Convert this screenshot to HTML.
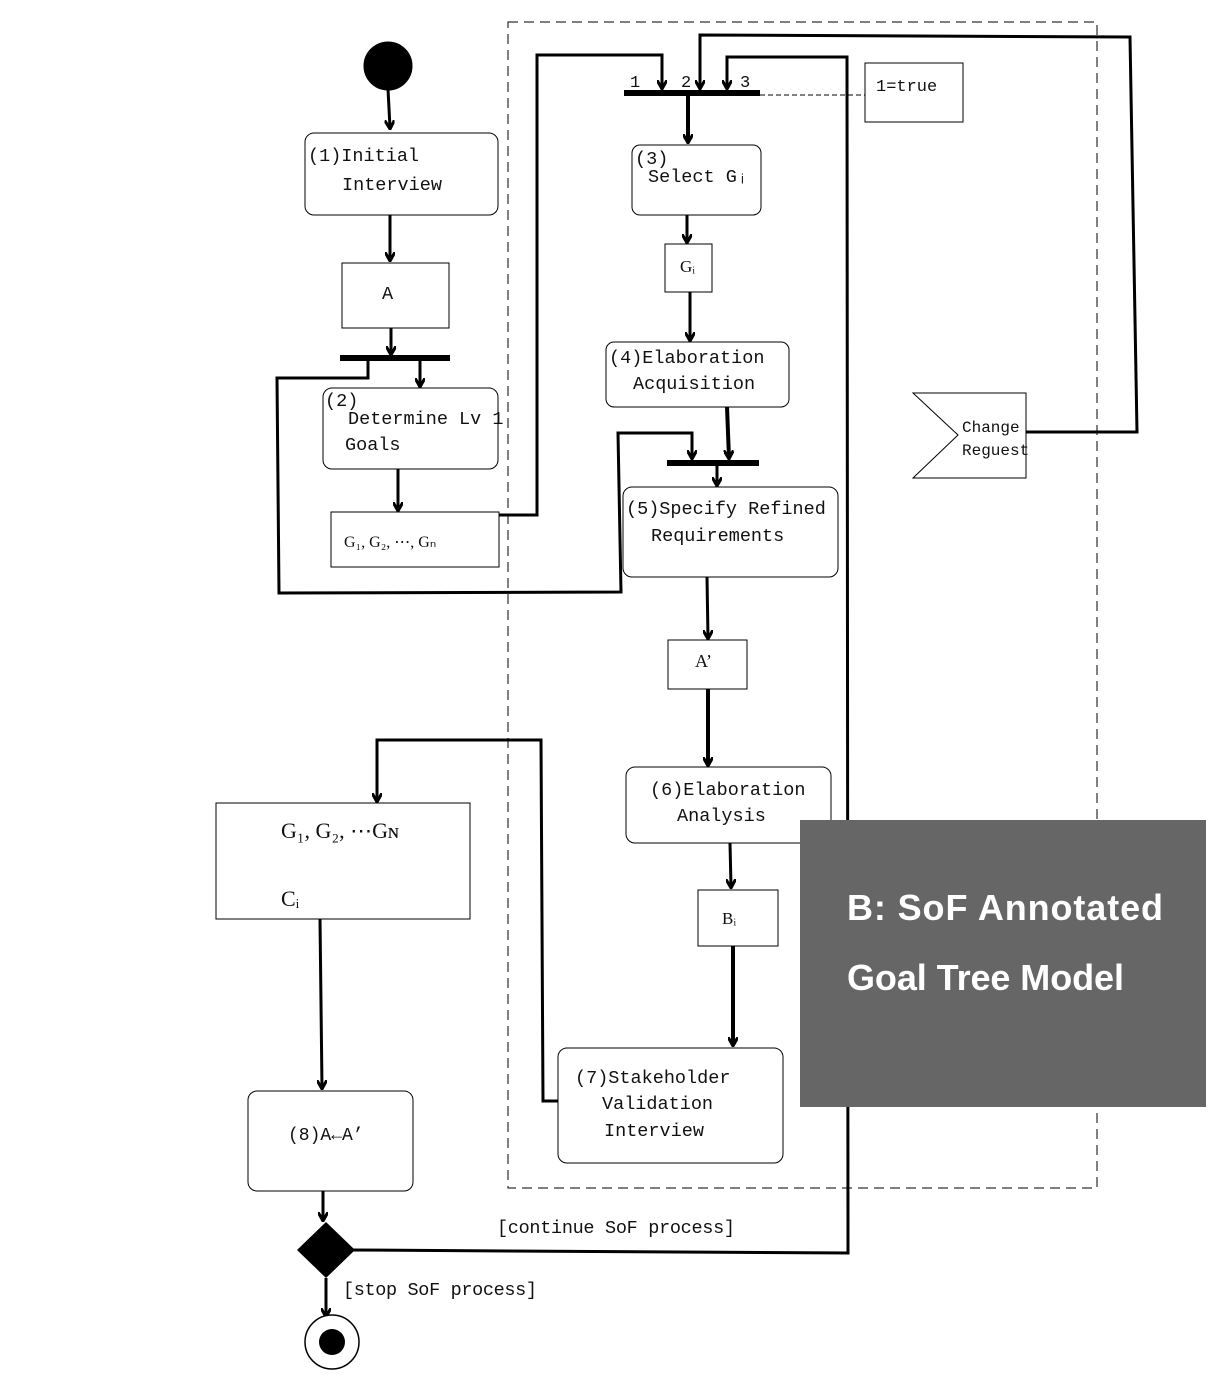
<!DOCTYPE html>
<html><head><meta charset="utf-8"><style>
html,body{margin:0;padding:0;background:#fff;}
svg{display:block;}
text{font-family:"Liberation Mono","Noto Serif CJK SC",monospace;font-size:18.5px;fill:#111;}
</style></head><body>
<svg width="1221" height="1394" viewBox="0 0 1221 1394" xmlns="http://www.w3.org/2000/svg">
<defs>
<marker id="ah" markerWidth="10" markerHeight="10" refX="8" refY="5" orient="auto" markerUnits="userSpaceOnUse">
<path d="M0,0 L9,5 L0,10" fill="none" stroke="#000" stroke-width="3"/>
</marker>
</defs>
<g fill="none" stroke="#000" stroke-width="3">
<rect x="508" y="22" width="589" height="1166" stroke-width="1" stroke-dasharray="10,6"/>
<line x1="760" y1="95" x2="865" y2="95" stroke-width="1" stroke-dasharray="5,3"/>
<circle cx="388" cy="66" r="23" fill="#000"/>
<line x1="388" y1="89" x2="390" y2="128" marker-end="url(#ah)"/>
<line x1="390" y1="215" x2="390" y2="260" marker-end="url(#ah)"/>
<line x1="391" y1="328" x2="391" y2="354" marker-end="url(#ah)"/>
<line x1="340" y1="358" x2="450" y2="358" stroke-width="6"/>
<line x1="420" y1="358" x2="420" y2="386" marker-end="url(#ah)"/>
<polyline points="368,358 368,378 277,378 279,593 621,592 618,433 692,433 692,458" marker-end="url(#ah)"/>
<line x1="398" y1="469" x2="398" y2="510" marker-end="url(#ah)"/>
<polyline points="499,515 537,515 537,55 662,55 662,88" marker-end="url(#ah)"/>
<line x1="624" y1="93" x2="760" y2="93" stroke-width="6"/>
<polyline points="1026,432 1137,432 1130,37 700,35 700,88" marker-end="url(#ah)"/>
<polyline points="352,1250 848,1253 847,57 727,57 727,88" marker-end="url(#ah)"/>
<line x1="688" y1="96" x2="688" y2="142" stroke-width="4" marker-end="url(#ah)"/>
<line x1="687" y1="215" x2="687" y2="242" marker-end="url(#ah)"/>
<line x1="690" y1="292" x2="690" y2="340" marker-end="url(#ah)"/>
<line x1="727" y1="407" x2="729" y2="458" stroke-width="4" marker-end="url(#ah)"/>
<line x1="667" y1="463" x2="759" y2="463" stroke-width="6"/>
<line x1="717" y1="463" x2="717" y2="485" marker-end="url(#ah)"/>
<line x1="707" y1="577" x2="708" y2="638" marker-end="url(#ah)"/>
<line x1="708" y1="689" x2="708" y2="765" stroke-width="4" marker-end="url(#ah)"/>
<line x1="730" y1="843" x2="731" y2="887" marker-end="url(#ah)"/>
<line x1="733" y1="946" x2="733" y2="1045" stroke-width="4" marker-end="url(#ah)"/>
<polyline points="558,1101 543,1101 541,740 377,740 377,801" marker-end="url(#ah)"/>
<line x1="320" y1="919" x2="322" y2="1088" marker-end="url(#ah)"/>
<line x1="323" y1="1191" x2="323" y2="1220" marker-end="url(#ah)"/>
<line x1="326" y1="1278" x2="326" y2="1316" marker-end="url(#ah)"/>
</g>
<g fill="#fff" stroke="#000" stroke-width="1">
<rect x="305" y="133" width="193" height="82" rx="9"/>
<rect x="342" y="263" width="107" height="65"/>
<rect x="323" y="388" width="175" height="81" rx="9"/>
<rect x="331" y="512" width="168" height="55"/>
<rect x="865" y="63" width="98" height="59"/>
<rect x="632" y="145" width="129" height="70" rx="8"/>
<rect x="665" y="244" width="47" height="48"/>
<rect x="606" y="342" width="183" height="65" rx="8"/>
<rect x="623" y="487" width="215" height="90" rx="9"/>
<rect x="668" y="640" width="79" height="49"/>
<rect x="626" y="767" width="205" height="76" rx="9"/>
<rect x="698" y="890" width="80" height="56"/>
<rect x="558" y="1048" width="225" height="115" rx="9"/>
<rect x="216" y="803" width="254" height="116"/>
<rect x="248" y="1091" width="165" height="100" rx="9"/>
<polygon points="913,393 1026,393 1026,478 913,478 958,435"/>
</g>
<polygon points="326,1222 355,1250 326,1278 297,1250" fill="#000"/>
<circle cx="332" cy="1342" r="27" fill="#fff" stroke="#000" stroke-width="1.5"/>
<circle cx="332" cy="1342" r="13" fill="#000"/>
<rect x="800" y="820" width="406" height="287" fill="#666"/>
<text x="847" y="920" style="font-family:'Liberation Sans',sans-serif;font-weight:bold;font-size:36px;fill:#fff" textLength="316">B:  SoF Annotated</text>
<text x="847" y="990" style="font-family:'Liberation Sans',sans-serif;font-weight:bold;font-size:36px;fill:#fff" textLength="277">Goal Tree Model</text>
<text x="308" y="161">(1)Initial</text>
<text x="342" y="190">Interview</text>
<text x="382" y="299">A</text>
<text x="325" y="406">(2)</text>
<text x="348" y="424">Determine Lv 1</text>
<text x="345" y="450">Goals</text>
<text x="344" y="547" style="font-family:'Liberation Serif',serif;font-size:16px">G₁, G₂, ⋯, Gₙ</text>
<text x="630" y="87" style="font-size:17px">1</text>
<text x="681" y="87" style="font-size:17px">2</text>
<text x="740" y="87" style="font-size:17px">3</text>
<text x="876" y="91" style="font-size:17px">1=true</text>
<text x="635" y="164">(3)</text>
<text x="648" y="182">Select Gᵢ</text>
<text x="680" y="272" style="font-family:'Liberation Serif',serif;font-size:17px">Gᵢ</text>
<text x="609" y="363">(4)Elaboration</text>
<text x="633" y="389">Acquisition</text>
<text x="626" y="514">(5)Specify Refined</text>
<text x="651" y="541">Requirements</text>
<text x="695" y="667" style="font-family:'Liberation Serif',serif;font-size:18px">A’</text>
<text x="650" y="795">(6)Elaboration</text>
<text x="677" y="821">Analysis</text>
<text x="722" y="924" style="font-family:'Liberation Serif',serif;font-size:17px">Bᵢ</text>
<text x="575" y="1083">(7)Stakeholder</text>
<text x="602" y="1109">Validation</text>
<text x="604" y="1136">Interview</text>
<text x="281" y="838" style="font-family:'Liberation Serif',serif;font-size:22px">G₁, G₂, ⋯Gɴ</text>
<text x="281" y="906" style="font-family:'Liberation Serif',serif;font-size:22px">Cᵢ</text>
<text x="288" y="1140" style="font-size:18px">(8)A←A’</text>
<text x="962" y="432" style="font-size:16px">Change</text>
<text x="962" y="455" style="font-size:16px">Reguest</text>
<text x="497" y="1233" textLength="238">[continue SoF process]</text>
<text x="343" y="1295" textLength="194">[stop SoF process]</text>
</svg>
</body></html>
